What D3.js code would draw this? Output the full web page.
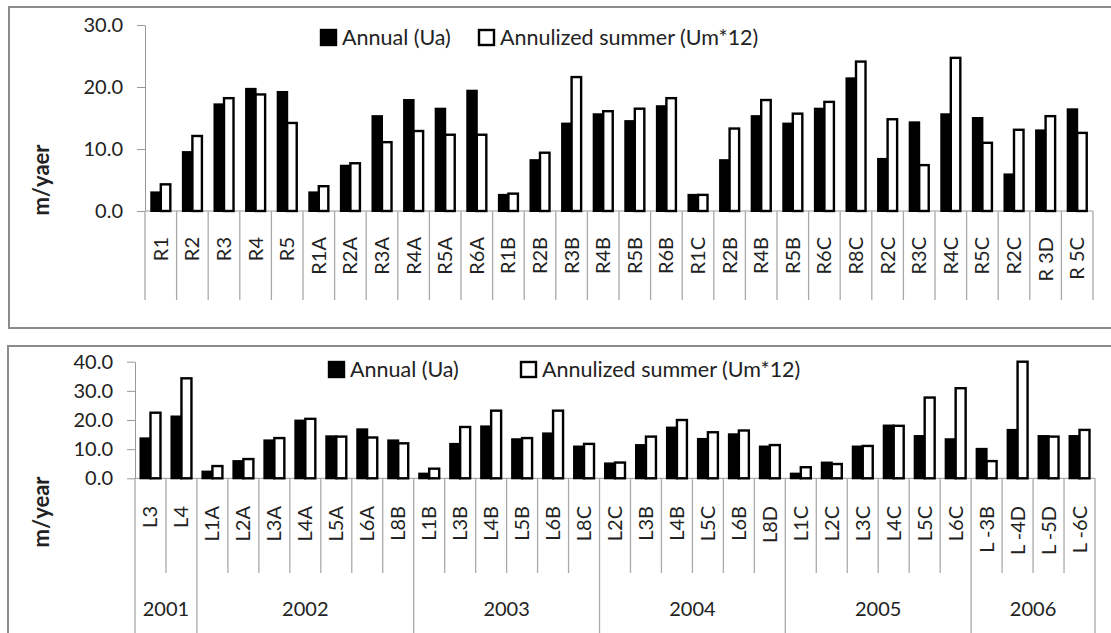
<!DOCTYPE html>
<html lang="en">
<head>
<meta charset="UTF-8">
<title>Annual vs annualized summer velocity</title>
<style>
  body { margin: 0; background: #fff; }
  text { font-family: Lato, "Open Sans", sans-serif; fill: #222; }
</style>
</head>
<body>
<script src="https://d3js.org/d3.v7.min.js"></script>
<script>
    // top chart data
    var topCats = ["R1", "R2", "R3", "R4", "R5", "R1A", "R2A", "R3A", "R4A", "R5A", "R6A", "R1B", "R2B", "R3B", "R4B",
        "R5B", "R6B", "R1C", "R2B", "R4B", "R5B", "R6C", "R8C", "R2C", "R3C", "R4C", "R5C", "R2C", "R 3D", "R 5C"];
    var topAnnual = [3.0, 9.5, 17.2, 19.7, 19.2, 3.0, 7.3, 15.3, 17.9, 16.5, 19.4, 2.6, 8.2, 14.1, 15.6,
        14.5, 16.9, 2.6, 8.2, 15.3, 14.1, 16.5, 21.4, 8.4, 14.3, 15.6, 15.0, 5.9, 13.0, 16.4];
    var topSummer = [4.3, 12.1, 18.2, 18.8, 14.2, 4.0, 7.7, 11.1, 12.9, 12.3, 12.3, 2.8, 9.4, 21.6, 16.1,
        16.5, 18.2, 2.6, 13.3, 17.9, 15.7, 17.6, 24.1, 14.8, 7.4, 24.7, 11.0, 13.1, 15.3, 12.6];
    var topTicks = [0, 10, 20, 30];

    // bottom chart data
    var botCats = ["L3", "L4", "L1A", "L2A", "L3A", "L4A", "L5A", "L6A", "L8B", "L1B", "L3B", "L4B", "L5B", "L6B", "L8C",
        "L2C", "L3B", "L4B", "L5C", "L6B", "L8D", "L1C", "L2C", "L3C", "L4C", "L5C", "L6C", "L -3B", "L -4D", "L -5D", "L -6C"];
    var botAnnual = [13.7, 21.2, 2.3, 5.9, 13.0, 19.8, 14.4, 16.8, 13.0, 1.6, 11.8, 17.8, 13.4, 15.4, 10.9,
        5.1, 11.4, 17.4, 13.5, 15.1, 10.9, 1.6, 5.4, 10.9, 18.1, 14.5, 13.4, 10.1, 16.6, 14.5, 14.5];
    var botSummer = [22.5, 34.3, 4.2, 6.6, 13.8, 20.4, 14.3, 14.0, 12.0, 3.3, 17.6, 23.2, 13.8, 23.2, 11.8,
        5.4, 14.3, 20.0, 15.8, 16.4, 11.4, 3.8, 4.9, 11.1, 18.0, 27.7, 30.9, 5.9, 40.0, 14.3, 16.6];
    var botTicks = [0, 10, 20, 30, 40];
    var botYears = ["2001", "2002", "2003", "2004", "2005", "2006"];
    var botYearCounts = [2, 7, 6, 6, 6, 4];

    var legendNames = ["Annual (Ua)", "Annulized summer (Um*12)"];

    const svg = d3.select("body").append("svg")
        .attr("width", 1111)
        .attr("height", 633);

    function panel(o) {
        const g = svg.append("g");
        g.append("rect")
            .attr("x", o.box[0]).attr("y", o.box[1])
            .attr("width", o.box[2]).attr("height", o.box[3])
            .attr("fill", "none").attr("stroke", "#8c8c8c").attr("stroke-width", 2);

        const y = d3.scaleLinear().domain([0, o.max]).range([o.y0, o.y1]);
        const x = d3.scaleBand().domain(d3.range(o.cats.length)).range([o.x0, o.x1]);
        const pair = d3.scaleBand().domain(["a", "s"]).range([0, x.bandwidth()]).paddingOuter(o.pad);
        const bw = x.bandwidth();

        // y axis
        const ya = g.append("g")
            .attr("transform", "translate(" + o.x0 + ",0)")
            .call(d3.axisLeft(y).tickValues(o.ticks).tickFormat(d3.format(".1f"))
                .tickSize(8).tickPadding(14).tickSizeOuter(0));
        ya.attr("font-family", null).attr("font-size", 20);
        ya.select(".domain").attr("stroke", "#999");
        ya.selectAll(".tick line").attr("stroke", "#999");
        ya.selectAll(".tick text").attr("fill", "#222");

        // x axis line and separators
        g.append("line")
            .attr("x1", o.x0).attr("x2", o.x1).attr("y1", o.y0).attr("y2", o.y0)
            .attr("stroke", "#999");
        const edges = d3.range(o.cats.length + 1);
        g.selectAll(".sep").data(edges).enter().append("line")
            .attr("x1", i => i < o.cats.length ? x(i) : o.x1)
            .attr("x2", i => i < o.cats.length ? x(i) : o.x1)
            .attr("y1", o.y0)
            .attr("y2", i => o.longEdges.indexOf(i) >= 0 ? o.longEnd : o.sepEnd)
            .attr("stroke", "#aaa").attr("stroke-width", 1.3);

        // category labels
        g.selectAll(".cat").data(o.cats).enter().append("text")
            .attr("transform", (d, i) => "translate(" + (x(i) + bw / 2) + "," + o.labTop + ") rotate(-90)")
            .attr("text-anchor", "end")
            .attr("dy", "0.35em")
            .attr("font-size", 20)
            .text(d => d);

        // bars
        g.selectAll(".ua").data(o.annual).enter().append("rect")
            .attr("x", (d, i) => x(i) + pair("a"))
            .attr("y", d => y(d))
            .attr("width", pair.bandwidth())
            .attr("height", d => o.y0 - y(d))
            .attr("fill", "#000").attr("stroke", "#000").attr("stroke-width", 2);
        g.selectAll(".um").data(o.summer).enter().append("rect")
            .attr("x", (d, i) => x(i) + pair("s"))
            .attr("y", d => y(d))
            .attr("width", pair.bandwidth())
            .attr("height", d => o.y0 - y(d))
            .attr("fill", "#fff").attr("stroke", "#000").attr("stroke-width", 2.4);

        // legend
        o.legend.forEach(function (l, k) {
            g.append("rect")
                .attr("x", l[0]).attr("y", l[1])
                .attr("width", 15).attr("height", 15)
                .attr("fill", k == 0 ? "#000" : "#fff")
                .attr("stroke", "#000").attr("stroke-width", 2.4);
            g.append("text")
                .attr("x", l[0] + 21).attr("y", l[1] + 15)
                .attr("font-size", 21.5)
                .text(legendNames[k]);
        });

        // y title
        g.append("text")
            .attr("transform", "translate(" + o.title[0] + "," + o.title[1] + ") rotate(-90)")
            .attr("text-anchor", "middle")
            .attr("dy", "0.35em")
            .attr("font-size", 22)
            .attr("font-weight", "bold")
            .attr("fill", "#111")
            .text(o.title[2]);

        return {x: x, bw: bw};
    }

    panel({
        box: [9, 7, 1120, 321],
        cats: topCats, annual: topAnnual, summer: topSummer, ticks: topTicks, max: 30,
        x0: 145, x1: 1093, y0: 211, y1: 25, pad: 0.66,
        sepEnd: 300, longEdges: [], longEnd: 300, labTop: 237,
        legend: [[321, 30], [479, 30]],
        title: [41, 180, "m/yaer"]
    });

    var yearEdges = [0];
    botYearCounts.forEach(function (c, k) { yearEdges.push(yearEdges[k] + c); });

    var bot = panel({
        box: [8, 346, 1120, 300],
        cats: botCats, annual: botAnnual, summer: botSummer, ticks: botTicks, max: 40,
        x0: 135, x1: 1095, y0: 478.3, y1: 361.7, pad: 0.55,
        sepEnd: 573, longEdges: yearEdges, longEnd: 640, labTop: 506,
        legend: [[329, 362], [521, 362]],
        title: [41, 512, "m/year"]
    });

    // year labels
    svg.selectAll(".year").data(botYears).enter().append("text")
        .attr("x", (d, k) => (bot.x(yearEdges[k]) + bot.x(yearEdges[k + 1] - 1) + bot.bw) / 2)
        .attr("y", 616)
        .attr("text-anchor", "middle")
        .attr("font-size", 20)
        .text(d => d);
</script>
</body>
</html>
